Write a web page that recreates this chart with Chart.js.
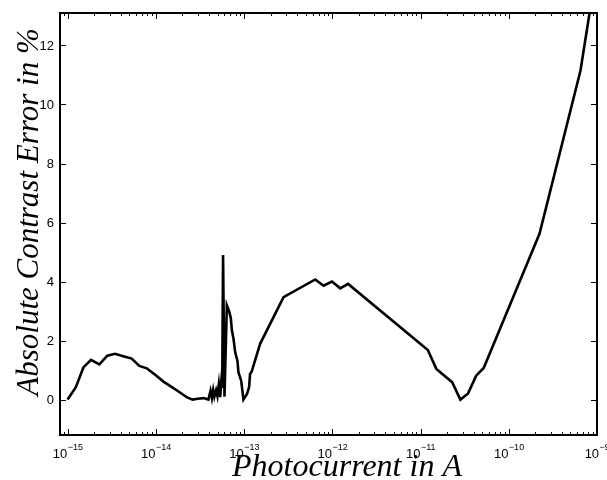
<!DOCTYPE html>
<html><head><meta charset="utf-8">
<script src="https://cdn.jsdelivr.net/npm/chart.js@4"></script>
<style>html,body{margin:0;padding:0;background:#fff}#wrap{width:607px;height:480px}</style>
</head><body><div id="wrap"><canvas id="c" width="607" height="480"></canvas></div>
<script>
// Photocurrent in A
const photocurrent = [
  1.00e-15, 1.24e-15, 1.51e-15, 1.84e-15, 2.29e-15, 2.82e-15, 3.45e-15, 4.37e-15, 5.33e-15, 6.50e-15,
  7.89e-15, 9.82e-15, 1.22e-14, 1.52e-14, 1.88e-14, 2.24e-14, 2.60e-14, 2.99e-14, 3.47e-14, 3.94e-14,
  4.17e-14, 4.32e-14, 4.47e-14, 4.61e-14, 4.82e-14, 4.99e-14, 5.18e-14, 5.36e-14, 5.52e-14, 5.65e-14,
  5.78e-14, 5.92e-14, 6.00e-14, 6.38e-14, 6.82e-14, 7.08e-14, 7.28e-14, 7.59e-14, 7.93e-14, 8.41e-14,
  8.63e-14, 9.27e-14, 9.84e-14, 1.08e-13, 1.14e-13, 1.17e-13, 1.22e-13, 1.52e-13, 2.80e-13, 6.41e-13,
  7.96e-13, 9.91e-13, 1.23e-12, 1.51e-12, 1.21e-11, 1.51e-11, 2.28e-11, 2.83e-11, 3.46e-11, 4.27e-11,
  5.20e-11, 2.23e-10, 6.50e-10, 1.00e-9
];
// Absolute contrast error in %
const contrastError = [
  0.00, 0.42, 1.09, 1.35, 1.19, 1.49, 1.55, 1.46, 1.39, 1.14,
  1.06, 0.84, 0.61, 0.42, 0.24, 0.08, 0.00, 0.03, 0.05, 0.00,
  0.30, 0.05, 0.33, 0.10, 0.32, 0.12, 0.53, 0.08, 0.60, 0.40,
  4.90, 4.90, 0.10, 3.19, 2.96, 2.75, 2.34, 2.06, 1.60, 1.32,
  0.93, 0.64, 0.00, 0.19, 0.42, 0.87, 0.95, 1.89, 3.47, 4.07,
  3.86, 4.00, 3.77, 3.92, 1.68, 1.04, 0.59, 0.00, 0.21, 0.81,
  1.07, 5.62, 11.15, 14.70
];
const xDecades = [-15, -14, -13, -12, -11, -10, -9];
const yTickValues = [0, 2, 4, 6, 8, 10, 12];
const xTitle = 'Photocurrent in A';
const yTitle = 'Absolute Contrast Error in %';

const axesPlugin = {
  id: 'matlabAxes',
  afterDraw(chart) {
    const ctx = chart.ctx;
    const {left, right, top, bottom} = chart.chartArea;
    const xs = chart.scales.x, ys = chart.scales.y;
    ctx.save();
    ctx.strokeStyle = '#000';
    ctx.fillStyle = '#000';
    ctx.lineWidth = 2;
    ctx.strokeRect(left, top, right - left, bottom - top);
    ctx.lineWidth = 1;
    // x ticks (major + minor), bottom and top, inward
    const xmin = xs.min, xmax = xs.max;
    for (let d = -16; d <= -9; d++) {
      for (let m = 1; m <= 9; m++) {
        const v = m * Math.pow(10, d);
        if (v < xmin * 0.999 || v > xmax * 1.001) continue;
        const px = Math.round(xs.getPixelForValue(v)) + 0.5;
        const len = m === 1 ? 6 : 3;
        ctx.beginPath();
        ctx.moveTo(px, bottom); ctx.lineTo(px, bottom - len);
        ctx.moveTo(px, top); ctx.lineTo(px, top + len);
        ctx.stroke();
      }
    }
    // y ticks left and right
    yTickValues.forEach(v => {
      const py = Math.round(ys.getPixelForValue(v)) + 0.5;
      ctx.beginPath();
      ctx.moveTo(left, py); ctx.lineTo(left + 6, py);
      ctx.moveTo(right, py); ctx.lineTo(right - 6, py);
      ctx.stroke();
    });
    // y tick labels
    ctx.font = '13px "Liberation Sans", Arial, sans-serif';
    ctx.textAlign = 'right';
    ctx.textBaseline = 'middle';
    yTickValues.forEach(v => {
      ctx.fillText(String(v), left - 6, ys.getPixelForValue(v) + 1);
    });
    // x tick labels 10^n
    ctx.textBaseline = 'alphabetic';
    xDecades.forEach(d => {
      const px = xs.getPixelForValue(Math.pow(10, d));
      const base = '10';
      const exp = '\u2212' + String(Math.abs(d));
      ctx.font = '13px "Liberation Sans", Arial, sans-serif';
      const wb = ctx.measureText(base).width;
      ctx.font = '9px "Liberation Sans", Arial, sans-serif';
      const we = ctx.measureText(exp).width;
      const x0 = px - (wb + we) / 2;
      ctx.textAlign = 'left';
      ctx.font = '13px "Liberation Sans", Arial, sans-serif';
      ctx.fillText(base, x0, 458);
      ctx.font = '9px "Liberation Sans", Arial, sans-serif';
      ctx.fillText(exp, x0 + wb + 0.5, 450);
    });
    // titles
    ctx.font = 'italic 32px "Liberation Serif", "Times New Roman", serif';
    ctx.textAlign = 'center';
    ctx.fillText(xTitle, 347, 476);
    ctx.font = 'italic 31px "Liberation Serif", "Times New Roman", serif';
    ctx.translate(38, 212);
    ctx.rotate(-Math.PI / 2);
    ctx.fillText(yTitle, 0, 0);
    ctx.restore();
  }
};

new Chart(document.getElementById('c'), {
  type: 'line',
  data: {
    datasets: [{
      data: photocurrent.map((x, i) => ({x: x, y: contrastError[i]})),
      borderColor: '#000',
      borderWidth: 2.6,
      pointRadius: 0,
      tension: 0,
      fill: false,
      clip: 0
    }]
  },
  options: {
    responsive: false,
    animation: false,
    devicePixelRatio: 1,
    layout: {padding: {left: 60, right: 10, top: 13, bottom: 45}},
    plugins: {legend: {display: false}, tooltip: {enabled: false}},
    scales: {
      x: {type: 'logarithmic', min: 8.2e-16, max: 1e-9, display: false},
      y: {type: 'linear', min: -1.2, max: 13.1, display: false}
    }
  },
  plugins: [axesPlugin]
});
</script>
</body></html>
